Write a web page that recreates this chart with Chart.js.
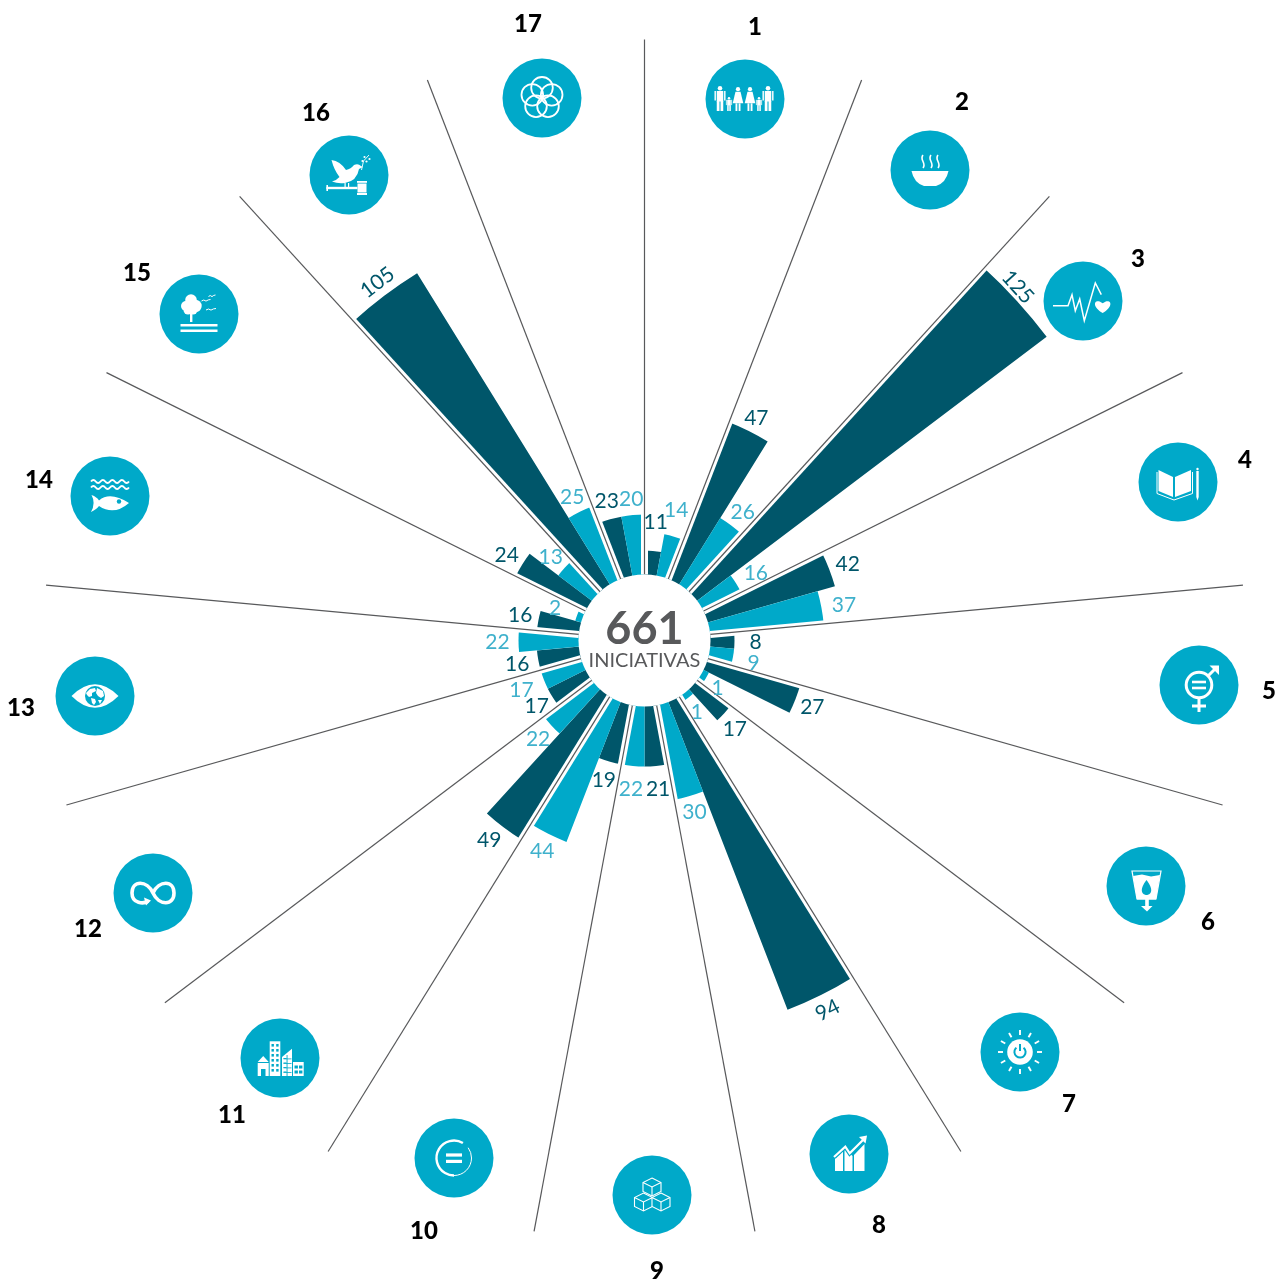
<!DOCTYPE html>
<html>
<head>
<meta charset="utf-8">
<title>661 iniciativas</title>
<script src="https://cdn.jsdelivr.net/npm/chart.js@4"></script>
<style>
    html, body { margin: 0; padding: 0; background: #fff; }
    canvas { display: block; }
</style>
</head>
<body>
<canvas id="goalsChart" width="1284" height="1282"></canvas>
<script>
// Goals, clockwise from the top
const goals = ["1", "2", "3", "4", "5", "6", "7", "8", "9", "10", "11", "12", "13", "14", "15", "16", "17"];

// Printed values
const darkValues = [11, 47, 125, 42, 8, 27, 17, 94, 21, 19, 49, 17, 16, 16, 24, 105, 23];
const lightValues = [14, 26, 16, 37, 9, 1, 1, 30, 22, 44, 22, 17, 22, 2, 13, 25, 20];

// The bars in the picture do not follow the printed value exactly, they end on steps of 5
const darkBars = [10, 50, 125, 40, 10, 30, 15, 95, 20, 20, 50, 15, 15, 15, 25, 105, 20];
const lightBars = [15, 25, 15, 35, 10, 5, 5, 30, 20, 45, 20, 15, 20, 5, 15, 25, 20];

const centerTotal = "661";
const centerCaption = "INICIATIVAS";

const DARK = "#00566a";
const LIGHT = "#00a9c9";
const LIGHT_TEXT = "#3fb1cc";
const GREY = "#58595b";
const HOLE_RADIUS = 66;
const SPOKE_RADIUS = 601;
const ICON_RADIUS = 39.5;

// The scale floors its centre to whole pixels, the picture sits half a pixel off that
const SHIFT_X = 0.5;
const SHIFT_Y = -0.5;

// Distance from the end of each bar to its label
const darkGaps = [31, 17, 14, 20, 21, 18, 19, 15, 21, 17, 18, 17, 21, 19, 18, 16, 21];
const lightGaps = [28, 19, 23, 23, 21, 14, 15, 15, 21, 17, 18, 24, 21, 24, 19, 18, 18];

// A few labels sit off the bar's middle line (index: [dx, dy])
const darkNudges = { 2: [-9.5, -6.5], 6: [-3.5, 1.5], 9: [-1.5, 0], 10: [-3.5, -3.5], 11: [-1.5, -2.5], 12: [-0.5, -1.5], 13: [0.5, -3.5], 14: [0, -1.5], 15: [3, -2.5], 16: [2.5, 0] };
const lightNudges = { 0: [-5.5, -1.5], 7: [1.5, 0], 9: [1.5, 0.5] };

// Where the icons and goal numbers sit on the page
const iconSpots = [[745, 99], [930, 170], [1083, 301], [1178, 482], [1199, 685], [1146, 886], [1020, 1052], [849, 1154],
    [652, 1195], [454, 1158], [280, 1058], [153, 893], [95, 696], [110, 496], [199, 314], [349, 175], [542, 98]];
const numberSpots = [[755, 27], [962, 102], [1138, 259], [1245, 460], [1269, 691], [1208, 922], [1069, 1104], [879, 1225],
    [657, 1271], [424, 1231], [232, 1115], [88, 929], [21, 708], [39, 480], [137, 273], [316, 113], [528, 24]];

// One dark and one light slice per goal
const segmentLabels = [];
const segmentValues = [];
const segmentColors = [];
goals.forEach(function (goal, i) {
    segmentLabels.push(goal + " a", goal + " b");
    segmentValues.push(darkBars[i], lightBars[i]);
    segmentColors.push(DARK, LIGHT);
});

function poly(ctx, pts, close) {
    ctx.beginPath();
    pts.forEach(function (p, i) {
        if (i === 0) ctx.moveTo(p[0], p[1]);
        else ctx.lineTo(p[0], p[1]);
    });
    if (close) ctx.closePath();
}

function disc(ctx, x, y, r) {
    ctx.beginPath();
    ctx.arc(x, y, r, 0, Math.PI * 2);
    ctx.fill();
}

function person(ctx, x, top, h, dress) {
    const w = h * 0.26;
    disc(ctx, x, top + h * 0.09, h * 0.09);
    if (dress) {
        poly(ctx, [[x - w * 0.4, top + h * 0.2], [x + w * 0.4, top + h * 0.2], [x + w * 0.85, top + h * 0.68], [x - w * 0.85, top + h * 0.68]], true);
        ctx.fill();
        ctx.fillRect(x - w * 0.4, top + h * 0.68, w * 0.3, h * 0.32);
        ctx.fillRect(x + w * 0.1, top + h * 0.68, w * 0.3, h * 0.32);
    } else {
        ctx.fillRect(x - w * 0.5, top + h * 0.2, w, h * 0.42);
        ctx.fillRect(x - w * 0.5, top + h * 0.6, w * 0.42, h * 0.4);
        ctx.fillRect(x + w * 0.08, top + h * 0.6, w * 0.42, h * 0.4);
        ctx.fillRect(x - w * 0.85, top + h * 0.2, w * 0.22, h * 0.38);
        ctx.fillRect(x + w * 0.63, top + h * 0.2, w * 0.22, h * 0.38);
    }
}

function cube(ctx, x, y, s) {
    poly(ctx, [[x, y - s], [x + s, y - s * 0.5], [x + s, y + s * 0.5], [x, y + s], [x - s, y + s * 0.5], [x - s, y - s * 0.5]], true);
    ctx.fillStyle = LIGHT;
    ctx.fill();
    ctx.stroke();
    poly(ctx, [[x - s, y - s * 0.5], [x, y], [x + s, y - s * 0.5]]);
    ctx.stroke();
    poly(ctx, [[x, y], [x, y + s]]);
    ctx.stroke();
    ctx.fillStyle = "#fff";
}

function heart(ctx, x, y, s) {
    ctx.beginPath();
    ctx.moveTo(x, y + s);
    ctx.bezierCurveTo(x - s * 1.7, y, x - s * 1, y - s * 1.1, x, y - s * 0.3);
    ctx.bezierCurveTo(x + s * 1, y - s * 1.1, x + s * 1.7, y, x, y + s);
    ctx.fill();
}

// Icons are simplified white drawings around the middle of each circle
const iconDrawers = [
    function (ctx) {
        person(ctx, -25, -13, 25, false);
        person(ctx, -16, -2, 14, false);
        person(ctx, -7, -12, 24, true);
        person(ctx, 5, -12, 24, true);
        person(ctx, 14, -2, 14, false);
        person(ctx, 23, -13, 25, false);
    },
    function (ctx) {
        ctx.beginPath();
        ctx.moveTo(-18.5, 1);
        ctx.lineTo(18.5, 1);
        ctx.quadraticCurveTo(16, 13, 6, 16);
        ctx.lineTo(-6, 16);
        ctx.quadraticCurveTo(-16, 13, -18.5, 1);
        ctx.fill();
        ctx.lineWidth = 1.6;
        [-7, 1, 8].forEach(function (x) {
            ctx.beginPath();
            ctx.moveTo(x, -15);
            ctx.bezierCurveTo(x - 4, -10, x + 4, -7, x, -2);
            ctx.stroke();
        });
    },
    function (ctx) {
        ctx.lineWidth = 1.5;
        poly(ctx, [[-30, 4.7], [-15, 4.7], [-11, -6.3], [-7.7, 9.7], [-3.3, -2], [1.3, 19.7], [12.3, -18], [18.3, -6.3]]);
        ctx.stroke();
        heart(ctx, 19.7, 4.5, 7.5);
    },
    function (ctx) {
        poly(ctx, [[-19.5, -12], [-5, -5], [-5, 15], [-19.5, 9]], true);
        ctx.fill();
        poly(ctx, [[13, -12], [-3, -5], [-3, 15], [13, 9]], true);
        ctx.fill();
        ctx.lineWidth = 1;
        poly(ctx, [[-21, -10], [-21, 11.5], [-4, 18], [14.5, 11.5], [14.5, -10]]);
        ctx.stroke();
        ctx.lineWidth = 2.4;
        poly(ctx, [[19.5, -11], [19.5, 15]]);
        ctx.stroke();
        poly(ctx, [[18.3, 15], [20.7, 15], [19.5, 18.5]], true);
        ctx.fill();
        disc(ctx, 19.5, -13, 1.2);
    },
    function (ctx) {
        ctx.lineWidth = 3;
        ctx.beginPath();
        ctx.arc(0, 0, 12.8, 0, Math.PI * 2);
        ctx.stroke();
        ctx.fillRect(-7, -4.3, 14, 2.6);
        ctx.fillRect(-7, 1.7, 14, 2.6);
        poly(ctx, [[0, 13], [0, 27]]);
        ctx.stroke();
        poly(ctx, [[-7, 21], [7, 21]]);
        ctx.stroke();
        poly(ctx, [[9, -9], [18, -18]]);
        ctx.stroke();
        poly(ctx, [[10.5, -19.5], [20, -19.5], [20, -10]], true);
        ctx.fill();
    },
    function (ctx) {
        ctx.lineWidth = 1.2;
        poly(ctx, [[-14, -15], [15, -15], [10, 13], [-9, 13]], true);
        ctx.stroke();
        poly(ctx, [[-13, -10], [-4, -11.5], [5, -9.5], [14, -11], [10, 13.5], [-9, 13.5]], true);
        ctx.fill();
        ctx.fillStyle = LIGHT;
        ctx.beginPath();
        ctx.moveTo(0.5, -6);
        ctx.bezierCurveTo(-8, 5, -3, 9, 0.5, 9);
        ctx.bezierCurveTo(4, 9, 9, 5, 0.5, -6);
        ctx.fill();
        ctx.fillStyle = "#fff";
        ctx.fillRect(-0.8, 13, 3.6, 8);
        poly(ctx, [[-5, 20], [6.5, 20], [1, 25.5]], true);
        ctx.fill();
    },
    function (ctx) {
        disc(ctx, 0, 0, 12.8);
        ctx.lineWidth = 1.9;
        for (let i = 0; i < 12; i++) {
            const a = i * Math.PI / 6;
            poly(ctx, [[Math.cos(a) * 17, Math.sin(a) * 17], [Math.cos(a) * 22, Math.sin(a) * 22]]);
            ctx.stroke();
        }
        ctx.strokeStyle = LIGHT;
        ctx.lineWidth = 2;
        ctx.beginPath();
        ctx.arc(0, 0, 5.6, -Math.PI * 0.28, Math.PI * 1.28);
        ctx.stroke();
        poly(ctx, [[0, -8], [0, -1]]);
        ctx.stroke();
    },
    function (ctx) {
        poly(ctx, [[-14, 1], [-6, -6], [-6, 17], [-14, 17]], true);
        ctx.fill();
        poly(ctx, [[-4.5, -4], [-3.5, -5], [3.5, 2], [3.5, 17], [-4.5, 17]], true);
        ctx.fill();
        poly(ctx, [[5, 1], [15.5, -10], [15.5, 17], [5, 17]], true);
        ctx.fill();
        ctx.strokeStyle = LIGHT;
        ctx.lineWidth = 4.5;
        poly(ctx, [[-15, 3], [-3.7, -7.3], [0.7, -0.7], [15, -15]]);
        ctx.stroke();
        ctx.strokeStyle = "#fff";
        ctx.lineWidth = 2.2;
        poly(ctx, [[-15, 3], [-3.7, -7.3], [0.7, -0.7], [15, -15]]);
        ctx.stroke();
        poly(ctx, [[10, -17], [18, -18.5], [16.5, -10.5]], true);
        ctx.fill();
    },
    function (ctx) {
        ctx.lineWidth = 1.1;
        cube(ctx, 0, -8, 9);
        cube(ctx, -8.5, 7, 9);
        cube(ctx, 9, 7, 9);
    },
    function (ctx) {
        ctx.lineWidth = 2.4;
        ctx.beginPath();
        ctx.arc(0, 0, 17.5, -Math.PI * 0.33, Math.PI * 0.5, true);
        ctx.stroke();
        ctx.lineWidth = 1;
        ctx.beginPath();
        ctx.arc(0, 0, 17.5, Math.PI * 0.5, -Math.PI * 0.2, true);
        ctx.stroke();
        ctx.fillRect(-8, -4.6, 16, 3.2);
        ctx.fillRect(-8, 1.8, 16, 3.2);
    },
    function (ctx) {
        // house
        poly(ctx, [[-22.3, 4], [-16.8, -2], [-11.3, 4]], true);
        ctx.fill();
        ctx.fillRect(-22.3, 5, 11, 13);
        // tower
        ctx.fillRect(-10.3, -16.7, 10.6, 34.7);
        // slanted block
        poly(ctx, [[2, -1], [12, -9.3], [12, 18], [2, 18]], true);
        ctx.fill();
        // low block
        ctx.fillRect(13, 4, 10.7, 14);
        ctx.fillStyle = LIGHT;
        ctx.fillRect(-19, 11, 4.5, 7);
        for (let row = 0; row < 6; row++) {
            ctx.fillRect(-8.5, -14 + row * 5, 2.4, 2.6);
            ctx.fillRect(-3.8, -14 + row * 5, 2.4, 2.6);
        }
        for (let row = 0; row < 4; row++) {
            ctx.fillRect(3.5, 0 + row * 4.5, 3, 0.9);
            ctx.fillRect(3.5, 0.5 + row * 4.5, 8, 0.8);
        }
        ctx.fillRect(6.6, -3, 0.9, 21);
        ctx.fillRect(14.5, 7.5, 3.4, 3);
        ctx.fillRect(19, 7.5, 3.4, 3);
        ctx.fillRect(14.5, 12.5, 3.4, 3);
        ctx.fillRect(19, 12.5, 3.4, 3);
        ctx.fillStyle = "#fff";
    },
    function (ctx) {
        ctx.lineWidth = 3.6;
        ctx.beginPath();
        ctx.moveTo(0, 0);
        ctx.bezierCurveTo(6, -13, 21, -13, 21, 0);
        ctx.bezierCurveTo(21, 13, 6, 13, 0, 0);
        ctx.bezierCurveTo(-6, -13, -21, -13, -21, 0);
        ctx.bezierCurveTo(-21, 11, -9, 11, -5, 8);
        ctx.stroke();
        poly(ctx, [[-9, 4.5], [-2, 7.5], [-7, 12.5]], true);
        ctx.fill();
    },
    function (ctx) {
        ctx.beginPath();
        ctx.moveTo(-23.5, 0);
        ctx.quadraticCurveTo(0, -23.5, 23.5, 0);
        ctx.quadraticCurveTo(0, 23.5, -23.5, 0);
        ctx.fill();
        ctx.fillStyle = LIGHT;
        disc(ctx, 0, 0, 10);
        // land on the globe
        ctx.fillStyle = "#fff";
        poly(ctx, [[-9, -3], [-5, -7], [0, -8], [1, -5], [-3, -3], [-3, 0], [-6, 1], [-8, -1]], true);
        ctx.fill();
        poly(ctx, [[2, -8], [8, -5], [9, 0], [6, 2], [3, 0], [1, -3]], true);
        ctx.fill();
        poly(ctx, [[-4, 2], [0, 3], [1, 6], [-1, 9], [-3, 7]], true);
        ctx.fill();
        poly(ctx, [[3, 4], [7, 4], [5, 8]], true);
        ctx.fill();
    },
    function (ctx) {
        ctx.lineWidth = 1.9;
        [-14.5, -8.5].forEach(function (y) {
            ctx.beginPath();
            ctx.moveTo(-19, y);
            for (let i = 0; i < 4; i++) {
                ctx.quadraticCurveTo(-19 + i * 9.5 + 2.4, y - 3, -19 + i * 9.5 + 4.75, y);
                ctx.quadraticCurveTo(-19 + i * 9.5 + 7.1, y + 3, -19 + i * 9.5 + 9.5, y);
            }
            ctx.stroke();
        });
        ctx.beginPath();
        ctx.moveTo(-18.5, -1);
        ctx.quadraticCurveTo(-13, 1, -11, 4.5);
        ctx.quadraticCurveTo(0, -5, 19, 7);
        ctx.quadraticCurveTo(4, 20, -11, 10);
        ctx.quadraticCurveTo(-13, 13, -19, 16);
        ctx.quadraticCurveTo(-14, 7, -18.5, -1);
        ctx.fill();
        ctx.fillStyle = LIGHT;
        disc(ctx, 9, 5.5, 2.2);
    },
    function (ctx) {
        disc(ctx, -8, -14, 5.8);
        disc(ctx, -13, -8, 5);
        disc(ctx, -3.5, -8, 6.2);
        disc(ctx, -11, -4, 4.5);
        disc(ctx, -6, -4, 4.5);
        ctx.fillRect(-9, -4, 2.4, 12);
        ctx.fillRect(-18.5, 10, 37, 2.5);
        ctx.fillRect(-18.5, 15.5, 37, 2.5);
        ctx.lineWidth = 1;
        [[7, -13.5, 4.5], [13, -18, 3.5], [12, -4.5, 5]].forEach(function (b) {
            ctx.beginPath();
            ctx.moveTo(b[0] - b[2], b[1] + 0.5);
            ctx.quadraticCurveTo(b[0] - b[2] / 2, b[1] - 1.5, b[0], b[1] + 0.6);
            ctx.quadraticCurveTo(b[0] + b[2] / 2, b[1] - 1, b[0] + b[2], b[1] - 1);
            ctx.stroke();
        });
    },
    function (ctx) {
        // dove
        ctx.beginPath();
        ctx.moveTo(-17.5, -15);
        ctx.quadraticCurveTo(-9, -14, -3, -5);
        ctx.quadraticCurveTo(2, -6, 5, -10);
        ctx.quadraticCurveTo(9, -12, 12, -9);
        ctx.lineTo(14, -8);
        ctx.lineTo(10, -6);
        ctx.quadraticCurveTo(8, 6, -4, 8);
        ctx.quadraticCurveTo(-11, 9, -17, 6.5);
        ctx.quadraticCurveTo(-12, 5, -9.5, 2);
        ctx.quadraticCurveTo(-15, -5, -17.5, -15);
        ctx.fill();
        ctx.fillRect(-4.5, 8, 1.2, 5);
        ctx.fillRect(-1, 8, 1.2, 5);
        // gavel
        ctx.fillRect(-22.6, 11.8, 31, 2.4);
        ctx.fillRect(-22.6, 10, 1.6, 6);
        ctx.fillRect(8.5, 8.5, 9, 9);
        ctx.fillRect(8, 6, 10, 1.8);
        ctx.fillRect(8, 18, 10, 2);
        // branch
        ctx.lineWidth = 0.9;
        poly(ctx, [[12.5, -5], [14.5, -14], [20, -20]]);
        ctx.stroke();
        disc(ctx, 13.5, -14, 1.1);
        disc(ctx, 17.5, -13.5, 1.1);
        disc(ctx, 15.5, -18, 1.1);
        disc(ctx, 20.5, -16, 1.1);
    },
    function (ctx) {
        ctx.lineWidth = 1.8;
        for (let i = 0; i < 5; i++) {
            const a = -Math.PI / 2 + i * Math.PI * 2 / 5;
            ctx.beginPath();
            ctx.arc(Math.cos(a) * 10.2, Math.sin(a) * 10.2, 10.8, 0, Math.PI * 2);
            ctx.stroke();
        }
    },
];

const decorations = {
    id: "decorations",
    beforeDatasetsDraw(chart) {
        chart.ctx.save();
        chart.ctx.translate(SHIFT_X, SHIFT_Y);
    },
    afterDatasetsDraw(chart) {
        const ctx = chart.ctx;
        ctx.restore();

        const arcs = chart.getDatasetMeta(0).data;
        const cx = arcs[0].x + SHIFT_X;
        const cy = arcs[0].y + SHIFT_Y;

        // Spokes between the goals, each with a white margin that trims the bars
        ctx.save();
        goals.forEach(function (goal, i) {
            const a = arcs[i * 2].startAngle;
            const ux = Math.cos(a);
            const uy = Math.sin(a);
            ctx.beginPath();
            ctx.moveTo(cx + ux * HOLE_RADIUS, cy + uy * HOLE_RADIUS);
            ctx.lineTo(cx + ux * SPOKE_RADIUS, cy + uy * SPOKE_RADIUS);
            ctx.strokeStyle = "#fff";
            ctx.lineWidth = 7;
            ctx.stroke();
        });
        goals.forEach(function (goal, i) {
            const a = arcs[i * 2].startAngle;
            const ux = Math.cos(a);
            const uy = Math.sin(a);
            ctx.beginPath();
            ctx.moveTo(cx + ux * HOLE_RADIUS, cy + uy * HOLE_RADIUS);
            ctx.lineTo(cx + ux * SPOKE_RADIUS, cy + uy * SPOKE_RADIUS);
            ctx.strokeStyle = GREY;
            ctx.lineWidth = 1.2;
            ctx.stroke();
        });

        // Centre hole with the total
        ctx.fillStyle = "#fff";
        disc(ctx, cx, cy, HOLE_RADIUS);
        ctx.fillStyle = GREY;
        ctx.textAlign = "center";
        ctx.textBaseline = "middle";
        ctx.font = "bold 45px Lato";
        ctx.fillText(centerTotal, cx, 629);
        ctx.font = "20px Lato";
        ctx.fillText(centerCaption, cx, 660.5);

        // Value labels just outside the bars
        function valueLabel(arc, text, gap, nudge, color) {
            const a = (arc.startAngle + arc.endAngle) / 2;
            const r = arc.outerRadius + gap;
            const shift = nudge || [0, 0];
            ctx.save();
            ctx.translate(cx + Math.cos(a) * r + shift[0], cy + Math.sin(a) * r + 2 + shift[1]);
            // the long bars have their number turned along the bar end
            if (text >= 90) {
                let turn = a + Math.PI / 2;
                if (Math.cos(turn) < 0) turn += Math.PI;
                ctx.rotate(turn);
            }
            ctx.fillStyle = color;
            ctx.font = "21px Lato";
            ctx.fillText(text, 0, 0);
            ctx.restore();
        }
        goals.forEach(function (goal, i) {
            valueLabel(arcs[i * 2], darkValues[i], darkGaps[i], darkNudges[i], DARK);
            valueLabel(arcs[i * 2 + 1], lightValues[i], lightGaps[i], lightNudges[i], LIGHT_TEXT);
        });

        // Goal icons and numbers
        goals.forEach(function (goal, i) {
            const spot = iconSpots[i];
            ctx.save();
            ctx.translate(spot[0], spot[1]);
            ctx.fillStyle = LIGHT;
            disc(ctx, 0, 0, ICON_RADIUS);
            ctx.fillStyle = "#fff";
            ctx.strokeStyle = "#fff";
            ctx.lineCap = "butt";
            iconDrawers[i](ctx);
            ctx.restore();

            ctx.fillStyle = "#000";
            ctx.font = "900 24px Lato";
            ctx.fillText(goal, numberSpots[i][0], numberSpots[i][1]);
        });
        ctx.restore();
    },
};

new Chart(document.getElementById("goalsChart"), {
    type: "polarArea",
    data: {
        labels: segmentLabels,
        datasets: [
            {
                data: segmentValues,
                backgroundColor: segmentColors,
                borderWidth: 0,
            },
        ],
    },
    options: {
        responsive: false,
        animation: false,
        layout: { padding: { left: 4 } },
        plugins: {
            legend: { display: false },
            tooltip: { enabled: false },
        },
        scales: {
            r: {
                min: -15,
                max: 162.8,
                ticks: { display: false },
                grid: { display: false },
                pointLabels: { display: false },
            },
        },
    },
    plugins: [decorations],
});
</script>
</body>
</html>
